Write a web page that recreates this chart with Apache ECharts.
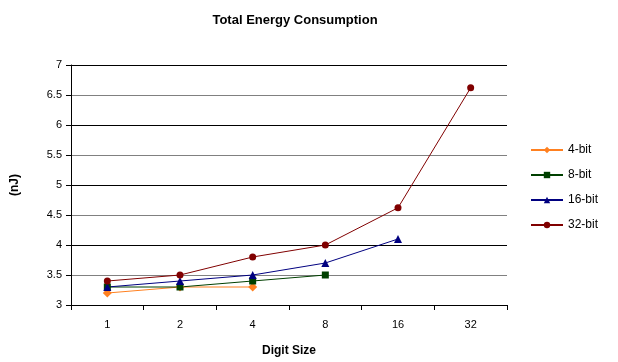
<!DOCTYPE html>
<html><head><meta charset="utf-8">
<script src="https://cdn.jsdelivr.net/npm/echarts@6/dist/echarts.min.js"></script>
<style>html,body{margin:0;padding:0;background:#fff}#c{width:618px;height:362px}</style>
</head><body><div id="c"></div>
<script>
var categories = ['1', '2', '4', '8', '16', '32'];
var bit4 = [3.2, 3.3, 3.3];
var bit8 = [3.3, 3.3, 3.4, 3.5];
var bit16 = [3.3, 3.4, 3.5, 3.7, 4.1];
var bit32 = [3.4, 3.5, 3.8, 4.0, 4.62, 6.62];
var seriesNames = ['4-bit', '8-bit', '16-bit', '32-bit'];

var font = 'Liberation Sans, Arial, sans-serif';
var chart = echarts.init(document.getElementById('c'), null, {renderer: 'canvas'});
function mk(name, data, color, symbol, size) {
  return {
    name: name, type: 'line', data: data, symbol: symbol, symbolSize: size,
    showAllSymbol: true, animation: false,
    lineStyle: {color: color, width: 1},
    itemStyle: {color: color}
  };
}
chart.setOption({
  animation: false,
  title: {text: 'Total Energy Consumption', left: 290, top: 9, textAlign: 'center',
    textStyle: {fontFamily: font, fontSize: 13, fontWeight: 'bold', color: '#000'}},
  grid: {left: 71, right: 111, top: 65, bottom: 57},
  legend: {
    orient: 'vertical', left: 525, top: 139, itemGap: 13, itemWidth: 32, itemHeight: 8,
    data: seriesNames,
    textStyle: {fontFamily: font, fontSize: 12, color: '#000'}
  },
  xAxis: {
    type: 'category', data: categories, boundaryGap: true,
    name: 'Digit Size', nameLocation: 'middle', nameGap: 40,
    nameTextStyle: {fontFamily: font, fontSize: 12, fontWeight: 'bold', color: '#000'},
    axisLine: {lineStyle: {color: '#000', width: 1}},
    axisTick: {show: true, alignWithLabel: false, length: 5, lineStyle: {color: '#000'}},
    axisLabel: {fontFamily: font, fontSize: 11, color: '#000', margin: 14},
    splitLine: {show: false}
  },
  yAxis: {
    type: 'value', min: 3, max: 7, interval: 0.5,
    name: '(nJ)', nameLocation: 'middle', nameGap: 50,
    nameTextStyle: {fontFamily: font, fontSize: 12, fontWeight: 'bold', color: '#000'},
    axisLine: {show: true, lineStyle: {color: '#000', width: 1}},
    axisTick: {show: true, length: 5, lineStyle: {color: '#000'}},
    axisLabel: {fontFamily: font, fontSize: 11, color: '#000', margin: 9},
    splitLine: {show: true, lineStyle: {color: ['#000', '#808080'], width: 1}}
  },
  series: [
    mk('4-bit', bit4, '#FF8020', 'diamond', 9),
    mk('8-bit', bit8, '#004000', 'rect', 7),
    mk('16-bit', bit16, '#000080', 'triangle', 8),
    mk('32-bit', bit32, '#800000', 'circle', 7)
  ]
});
</script></body></html>
